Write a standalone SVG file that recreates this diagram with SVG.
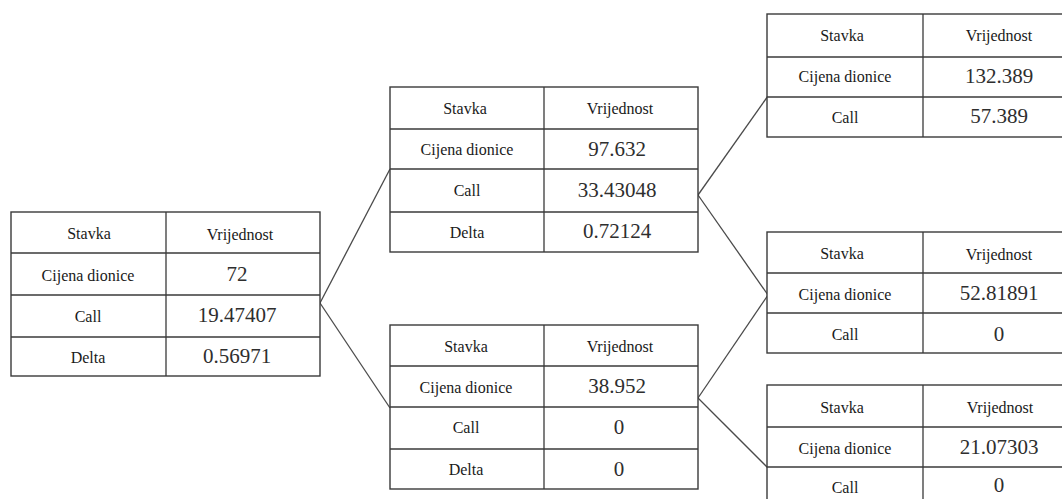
<svg xmlns="http://www.w3.org/2000/svg" width="1062" height="499" viewBox="0 0 1062 499">
<style>
.frame{fill:#fff;stroke:#3a3a3a;stroke-width:1.4}
.grid{stroke:#3a3a3a;stroke-width:1.3}
.lab{font-family:"Liberation Serif","Times New Roman",serif;font-size:16px;fill:#1a1a1a;text-anchor:middle}
.val{font-family:"Liberation Serif","Times New Roman",serif;font-size:21px;fill:#2e2e2e;text-anchor:middle}
.conn{stroke:#4a4a4a;stroke-width:1.3;fill:none}
</style>
<rect width="1062" height="499" fill="#fff"/>
<g id="connectors">
<line class="conn" x1="320" y1="303" x2="390" y2="169"/>
<line class="conn" x1="320" y1="303" x2="390" y2="408"/>
<line class="conn" x1="698" y1="195" x2="768" y2="96"/>
<line class="conn" x1="698" y1="195" x2="768" y2="295"/>
<line class="conn" x1="698" y1="398" x2="768" y2="295"/>
<line class="conn" x1="698" y1="398" x2="768" y2="468"/>
</g>
<g id="node-root">
<rect class="frame" x="11" y="212" width="309" height="164"/>
<line class="grid" x1="11" y1="253" x2="320" y2="253"/>
<line class="grid" x1="11" y1="295" x2="320" y2="295"/>
<line class="grid" x1="11" y1="337" x2="320" y2="337"/>
<line class="grid" x1="166" y1="212" x2="166" y2="376"/>
<text class="lab" x="89" y="239">Stavka</text>
<text class="lab" x="240" y="240">Vrijednost</text>
<text class="lab" x="88" y="281">Cijena dionice</text>
<text class="val" x="237" y="281">72</text>
<text class="lab" x="88" y="322">Call</text>
<text class="val" x="237" y="322">19.47407</text>
<text class="lab" x="88" y="363">Delta</text>
<text class="val" x="237" y="363">0.56971</text>
</g>
<g id="node-up">
<rect class="frame" x="390" y="87" width="308" height="165"/>
<line class="grid" x1="390" y1="129" x2="698" y2="129"/>
<line class="grid" x1="390" y1="169" x2="698" y2="169"/>
<line class="grid" x1="390" y1="212" x2="698" y2="212"/>
<line class="grid" x1="544" y1="87" x2="544" y2="252"/>
<text class="lab" x="465" y="114">Stavka</text>
<text class="lab" x="620" y="114">Vrijednost</text>
<text class="lab" x="467" y="155">Cijena dionice</text>
<text class="val" x="617" y="156">97.632</text>
<text class="lab" x="467" y="196">Call</text>
<text class="val" x="617" y="197">33.43048</text>
<text class="lab" x="467" y="238">Delta</text>
<text class="val" x="617" y="238">0.72124</text>
</g>
<g id="node-down">
<rect class="frame" x="390" y="325" width="308" height="164"/>
<line class="grid" x1="390" y1="366" x2="698" y2="366"/>
<line class="grid" x1="390" y1="407" x2="698" y2="407"/>
<line class="grid" x1="390" y1="449" x2="698" y2="449"/>
<line class="grid" x1="544" y1="325" x2="544" y2="489"/>
<text class="lab" x="466" y="352">Stavka</text>
<text class="lab" x="620" y="352">Vrijednost</text>
<text class="lab" x="466" y="393">Cijena dionice</text>
<text class="val" x="617" y="393">38.952</text>
<text class="lab" x="466" y="433">Call</text>
<text class="val" x="619" y="434">0</text>
<text class="lab" x="466" y="475">Delta</text>
<text class="val" x="619" y="476">0</text>
</g>
<g id="node-upup">
<rect class="frame" x="767" y="14" width="310" height="123"/>
<line class="grid" x1="767" y1="57" x2="1077" y2="57"/>
<line class="grid" x1="767" y1="97" x2="1077" y2="97"/>
<line class="grid" x1="923" y1="14" x2="923" y2="137"/>
<text class="lab" x="842" y="41">Stavka</text>
<text class="lab" x="999" y="41">Vrijednost</text>
<text class="lab" x="845" y="82">Cijena dionice</text>
<text class="val" x="999" y="83">132.389</text>
<text class="lab" x="845" y="123">Call</text>
<text class="val" x="999" y="123">57.389</text>
</g>
<g id="node-updown">
<rect class="frame" x="767" y="232" width="310" height="121"/>
<line class="grid" x1="767" y1="273" x2="1077" y2="273"/>
<line class="grid" x1="767" y1="313" x2="1077" y2="313"/>
<line class="grid" x1="923" y1="232" x2="923" y2="353"/>
<text class="lab" x="842" y="259">Stavka</text>
<text class="lab" x="999" y="260">Vrijednost</text>
<text class="lab" x="845" y="300">Cijena dionice</text>
<text class="val" x="999" y="300">52.81891</text>
<text class="lab" x="845" y="340">Call</text>
<text class="val" x="999" y="341">0</text>
</g>
<g id="node-downdown">
<rect class="frame" x="767" y="385" width="310" height="130"/>
<line class="grid" x1="767" y1="427" x2="1077" y2="427"/>
<line class="grid" x1="767" y1="467" x2="1077" y2="467"/>
<line class="grid" x1="923" y1="385" x2="923" y2="515"/>
<text class="lab" x="842" y="413">Stavka</text>
<text class="lab" x="1000" y="413">Vrijednost</text>
<text class="lab" x="845" y="454">Cijena dionice</text>
<text class="val" x="999" y="454">21.07303</text>
<text class="lab" x="845" y="493">Call</text>
<text class="val" x="999" y="492">0</text>
</g>
</svg>
